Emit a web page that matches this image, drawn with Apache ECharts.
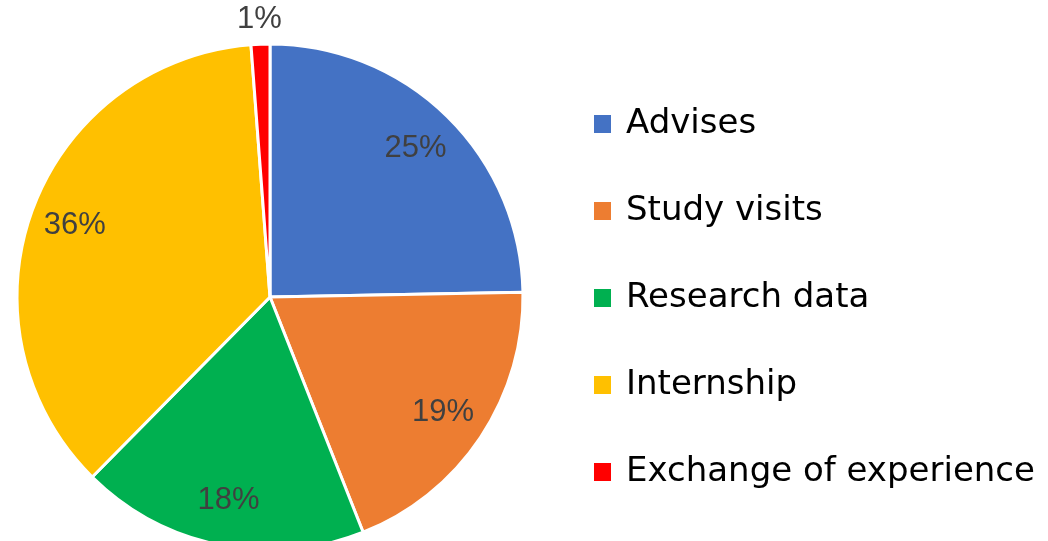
<!DOCTYPE html>
<html>
<head>
<meta charset="utf-8">
<script src="https://cdn.jsdelivr.net/npm/echarts@6/dist/echarts.min.js"></script>
<style>
html,body{margin:0;padding:0;background:#fff;}
#chart{width:1048px;height:541px;}
</style>
</head>
<body>
<div id="chart"></div>
<script>
const categories = ['Advises', 'Study visits', 'Research data', 'Internship', 'Exchange of experience'];
const values = [24.7, 19.3, 18.4, 36.4, 1.2];
const colors = ['#4472C4', '#ED7D31', '#00B050', '#FFC000', '#FF0000'];
const outsideLabel = [false, false, false, false, true];

const center = [270, 297];
const R = 253;

const chart = echarts.init(document.getElementById('chart'), null, {renderer: 'canvas'});

const fmt = p => Math.round(p.value) + '%';
const labelStyle = {color: '#404040', fontSize: 31, fontFamily: 'Liberation Sans, Arial, sans-serif'};

const mainData = categories.map((n, i) => ({name: n, value: values[i], itemStyle: {color: colors[i]}}));
const insideData = categories.map((n, i) => ({name: n, value: values[i], label: {show: !outsideLabel[i]}}));
const outsideData = categories.map((n, i) => ({name: n, value: values[i], label: {show: outsideLabel[i]}}));

const overlayBase = {
  type: 'pie', center: center, startAngle: 90, clockwise: true, silent: true,
  itemStyle: {color: 'rgba(0,0,0,0)', borderWidth: 0},
  emphasis: {disabled: true}, labelLine: {show: false}, legendHoverLink: false
};

chart.setOption({
  animation: false,
  backgroundColor: '#ffffff',
  legend: {
    orient: 'vertical', left: 592, top: 107, padding: 0,
    itemWidth: 19, itemHeight: 20, itemGap: 53,
    icon: 'rect',
    data: categories,
    selectedMode: false,
    textStyle: {color: '#000000', fontSize: 34, lineHeight: 34, fontFamily: 'DejaVu Sans, sans-serif', padding: [0, 0, 0, 9]}
  },
  series: [
    {
      type: 'pie', name: 'main', center: center, radius: [0, R], startAngle: 90, clockwise: true,
      data: mainData,
      itemStyle: {borderColor: '#ffffff', borderWidth: 3},
      label: {show: false}, labelLine: {show: false},
      emphasis: {disabled: true}
    },
    Object.assign({}, overlayBase, {
      name: 'labelsInside', radius: [R * 0.62, R], data: insideData,
      label: Object.assign({position: 'inside', formatter: fmt}, labelStyle)
    }),
    Object.assign({}, overlayBase, {
      name: 'labelsOutside', radius: [R + 10, R + 34], data: outsideData,
      label: Object.assign({position: 'inside', formatter: fmt}, labelStyle)
    })
  ]
});
</script>
</body>
</html>
